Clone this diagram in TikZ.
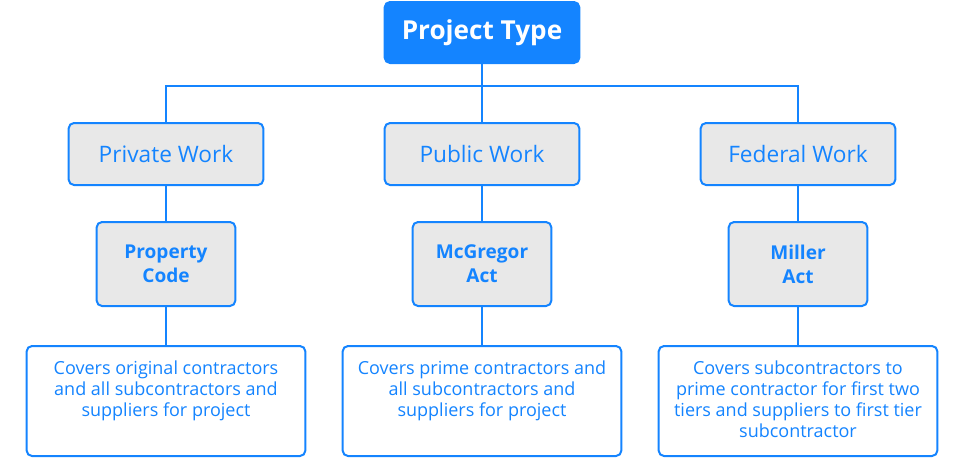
\documentclass[tikz,border=0pt]{standalone}
\usepackage{fontspec}
\setmainfont{Open Sans}
\usetikzlibrary{positioning}
\definecolor{prjblue}{RGB}{20,132,255}
\definecolor{boxgray}{RGB}{232,232,232}

\begin{document}
\begin{tikzpicture}[x=0.75pt,y=-0.75pt,
line width=1.5pt,
basebox/.style = {rectangle, rounded corners=4pt, draw=prjblue, outer sep=0pt, inner sep=0pt, align=center},
rootbox/.style = {basebox, fill=prjblue, text=white, font=\fontsize{19.6}{22}\selectfont\bfseries, minimum width=146pt, minimum height=45.75pt},
workbox/.style = {basebox, fill=boxgray, text=prjblue, font=\fontsize{17}{20}\selectfont, minimum width=146pt, minimum height=46.5pt},
lawbox/.style = {basebox, fill=boxgray, text=prjblue, font=\fontsize{14.3}{18}\selectfont\bfseries, minimum width=104pt, minimum height=63pt},
descbox/.style = {basebox, fill=white, minimum width=209pt, minimum height=82.5pt},
desctext/.style = {anchor=north, yshift=-10pt, inner sep=0pt, text=prjblue, align=center, font=\fontsize{13.5}{15.75}\selectfont},
link/.style = {draw=prjblue, line width=1.5pt}
]
\useasboundingbox (0,0) rectangle (960,457);

% top level
\node (root) [rootbox] at (482,32.5) {Project Type};

% kinds of work
\node (pub) [workbox, below=45pt of root] {Public Work};
\node (pri) [workbox, left=91pt of pub] {Private Work};
\node (fed) [workbox, right=91pt of pub] {Federal Work};

% statutes
\node (mcg) [lawbox, below=27.75pt of pub] {McGregor\\Act};
\node (prop) [lawbox, below=27.75pt of pri] {Property\\Code};
\node (mil) [lawbox, below=27.75pt of fed] {Miller\\Act};

% coverage
\node (dpri) [descbox, below=30pt of prop,
  label={[desctext]north:Covers original contractors\\and all subcontractors and\\suppliers for project}] {};
\node (dpub) [descbox, below=30pt of mcg,
  label={[desctext]north:Covers prime contractors and\\all subcontractors and\\suppliers for project}] {};
\node (dfed) [descbox, below=30pt of mil,
  label={[desctext]north:Covers subcontractors to\\prime contractor for first two\\tiers and suppliers to first tier\\subcontractor}] {};

\coordinate (fork) at (482,86);
\draw[link] (root.south) -- (fork) -- (pub.north);
\draw[link] (pri.north) |- (fork) -| (fed.north);
\draw[link] (pri) -- (prop);
\draw[link] (pub) -- (mcg);
\draw[link] (fed) -- (mil);
\draw[link] (prop) -- (dpri);
\draw[link] (mcg) -- (dpub);
\draw[link] (mil) -- (dfed);
\end{tikzpicture}
\end{document}
